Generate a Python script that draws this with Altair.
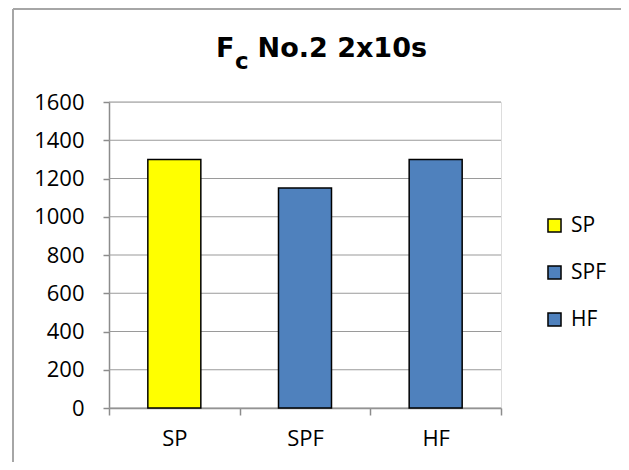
import altair as alt
import pandas as pd

# ---- data ----
categories = ["SP", "SPF", "HF"]
values = [1300, 1150, 1300]
colors = ["#FFFF00", "#4F81BD", "#4F81BD"]
y_ticks = [0, 200, 400, 600, 800, 1000, 1200, 1400, 1600]
title_main = "F"
title_sub = "c"
title_rest = "No.2 2x10s"

df = pd.DataFrame({"cat": categories, "val": values, "idx": list(range(len(categories)))})
grid_df = pd.DataFrame({"val": y_ticks})

W, H = 392, 306
GRID = "#9a9a9a"
AXIS = "#8c8c8c"
FONT = "Open Sans"
n = len(categories)
xscale = alt.Scale(domain=[0, n], nice=False, zero=False, padding=0)
yscale = alt.Scale(domain=[0, 1600], nice=False)
label_expr = "[" + ",".join("'%s'" % c for c in categories) + "][floor(datum.value)]"

y_axis = alt.Axis(title=None, values=y_ticks, format="d", grid=False, gridOpacity=0,
                  domainColor=AXIS, domainWidth=1.5, tickColor=AXIS,
                  tickWidth=1.5, tickSize=6, labelPadding=19, labelFont=FONT,
                  labelFontSize=22, labelColor="black")

gridlines = alt.Chart(grid_df).mark_rule(color=GRID, strokeWidth=1.2).encode(
    y=alt.Y("val:Q", scale=yscale, axis=y_axis),
    x=alt.value(0), x2=alt.value(W),
)

base = alt.Chart(df).transform_calculate(pos="datum.idx + 0.5")

bars = base.mark_bar(width=53, stroke="black", strokeWidth=1.5).encode(
    x=alt.X("pos:Q", scale=xscale,
            axis=alt.Axis(title=None, orient="bottom", values=list(range(n + 1)), labels=False,
                          grid=False, gridOpacity=0, domainColor=AXIS, domainWidth=1.5,
                          tickColor=AXIS, tickWidth=1.5, tickSize=7)),
    y=alt.Y("val:Q", scale=yscale, axis=y_axis),
    fill=alt.Fill(
        "cat:N", sort=categories,
        scale=alt.Scale(domain=categories, range=colors),
        legend=alt.Legend(title=None, orient="none", legendX=435, legendY=113,
                          symbolType="square", symbolSize=170, symbolStrokeColor="black",
                          symbolStrokeWidth=1.5, labelFont=FONT, labelFontSize=21,
                          labelColor="black", labelOffset=6, rowPadding=25, padding=0),
    ),
)

labels_layer = base.mark_point(opacity=0).encode(
    x=alt.X("pos:Q", scale=xscale,
            axis=alt.Axis(title=None, orient="bottom", values=[i + 0.5 for i in range(n)],
                          labelExpr=label_expr, ticks=False, tickSize=0, domain=False,
                          grid=False, gridOpacity=0, labelPadding=20, labelFont=FONT,
                          labelFontSize=22, labelColor="black")),
)

one = pd.DataFrame({"a": [0]})

border_top = alt.Chart(one).mark_rule(color="#a6a6a6", strokeWidth=2).encode(
    x=alt.value(-96), x2=alt.value(530), y=alt.value(-93)
)
border_left = alt.Chart(one).mark_rule(color="#a6a6a6", strokeWidth=2).encode(
    x=alt.value(-96), y=alt.value(-93), y2=alt.value(380)
)

t1 = alt.Chart(pd.DataFrame({"t": [title_main]})).mark_text(
    align="left", baseline="alphabetic", font="DejaVu Sans", fontWeight="bold", fontSize=27,
    color="black"
).encode(x=alt.value(107), y=alt.value(-45), text="t:N")
t2 = alt.Chart(pd.DataFrame({"t": [title_sub]})).mark_text(
    align="left", baseline="alphabetic", font="DejaVu Sans", fontWeight="bold", fontSize=23,
    color="black"
).encode(x=alt.value(126), y=alt.value(-33), text="t:N")
t3 = alt.Chart(pd.DataFrame({"t": [title_rest]})).mark_text(
    align="right", baseline="alphabetic", font="DejaVu Sans", fontWeight="bold", fontSize=27,
    color="black"
).encode(x=alt.value(318), y=alt.value(-45), text="t:N")

chart = alt.layer(gridlines, bars, labels_layer, border_top, border_left, t1, t2, t3).resolve_axis(
    x="independent"
).properties(
    width=W, height=H,
    autosize=alt.AutoSizeParams(type="none"),
    padding={"left": 101, "top": 94, "right": 120, "bottom": 54},
).configure_view(
    stroke="transparent", strokeWidth=0
).configure_axis(
    grid=False, gridOpacity=0, gridWidth=0
).configure(background="white")

chart.save("out.html", embed_options={"renderer": "svg", "actions": False})
